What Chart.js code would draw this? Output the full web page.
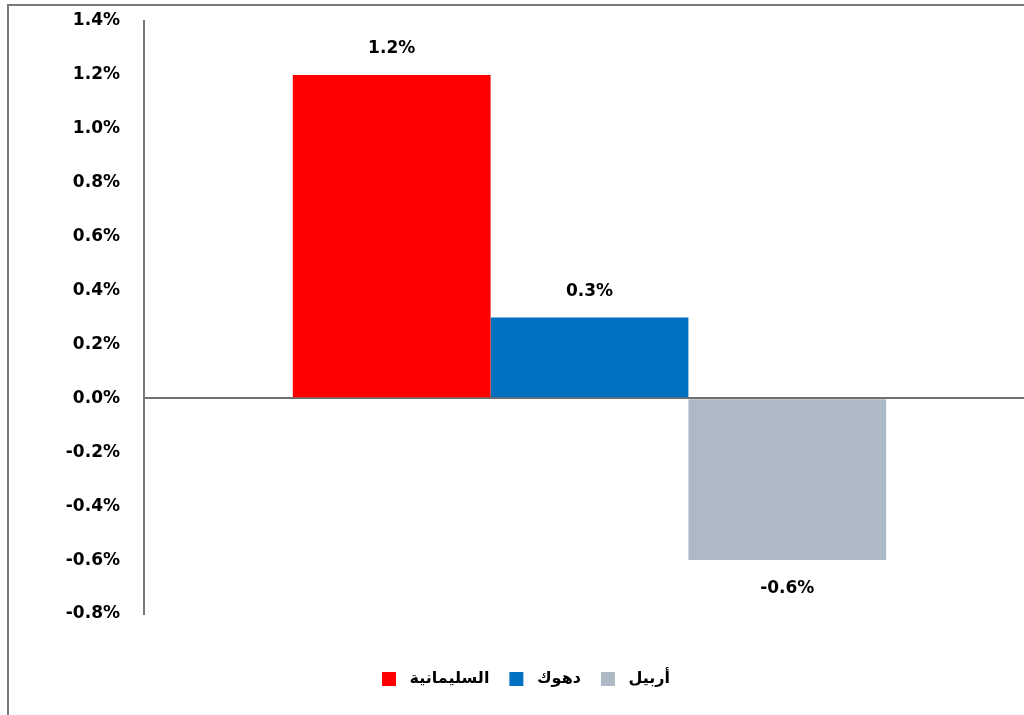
<!DOCTYPE html>
<html>
<head>
<meta charset="utf-8">
<script src="https://cdn.jsdelivr.net/npm/chart.js@4.4.1/dist/chart.umd.min.js"></script>
<style>
  html, body { margin: 0; padding: 0; background: #fff; overflow: hidden; }
  body { width: 1024px; height: 715px; position: relative; }
  #frame {
    position: absolute; left: 7px; top: 4px; width: 1100px; height: 800px;
    border-top: 2px solid #7a7a7a; border-left: 2px solid #7a7a7a;
  }
  #wrap { position: absolute; left: 0; top: 0; width: 1052px; height: 715px; }
</style>
</head>
<body>
<div id="frame"></div>
<div id="wrap"><canvas id="growthChart"></canvas></div>
<script>
// DATA
const categories = [''];
const regionNames = ['السليمانية', 'دهوك', 'أربيل'];
const regionValues = [1.2, 0.3, -0.6];
const regionColors = ['#FF0000', '#0070C0', '#ADB9C4'];
const yTicks = [-0.8, -0.6, -0.4, -0.2, 0.0, 0.2, 0.4, 0.6, 0.8, 1.0, 1.2, 1.4];

const FONT = "'DejaVu Sans', 'Liberation Sans', sans-serif";

// value labels above / below each bar
const barLabels = {
    id: 'barLabels',
    afterDatasetsDraw(chart) {
        const ctx = chart.ctx;
        ctx.save();
        ctx.font = 'bold 17px ' + FONT;
        ctx.fillStyle = '#000';
        ctx.textAlign = 'center';
        ctx.textBaseline = 'middle';
        chart.data.datasets.forEach((ds, i) => {
            chart.getDatasetMeta(i).data.forEach((bar, j) => {
                const v = ds.data[j];
                const y = v >= 0 ? bar.y - 26 : bar.y + 28;
                ctx.fillText(v.toFixed(1) + '%', bar.x, y);
            });
        });
        ctx.restore();
    }
};

new Chart(document.getElementById('growthChart'), {
    type: 'bar',
    data: {
        labels: categories,
        datasets: regionNames.map((name, i) => ({
            label: name,
            data: [regionValues[i]],
            backgroundColor: regionColors[i],
            borderWidth: 0,
            categoryPercentage: 0.666,
            barPercentage: 1.0
        }))
    },
    options: {
        responsive: true,
        maintainAspectRatio: false,
        animation: false,
        layout: { padding: { top: 21, left: 0, right: 0, bottom: 18 } },
        plugins: {
            legend: {
                position: 'bottom',
                labels: {
                    boxWidth: 14,
                    boxHeight: 14,
                    padding: 20,
                    color: '#000',
                    font: { family: FONT, size: 16, weight: 'bold' },
                    generateLabels(chart) {
                        return Chart.defaults.plugins.legend.labels.generateLabels(chart)
                            .map(l => Object.assign(l, { text: ' ' + l.text }));
                    }
                }
            },
            tooltip: { enabled: false }
        },
        scales: {
            x: {
                display: true,
                grid: { display: false },
                border: { display: false },
                ticks: { display: false },
                afterFit(scale) { scale.height = 37; }
            },
            y: {
                min: -0.8,
                max: 1.4,
                afterFit(scale) { scale.width = 144; },
                afterBuildTicks(scale) { scale.ticks = yTicks.map(v => ({ value: v })); },
                grid: {
                    drawTicks: true,
                    tickLength: 24,
                    tickColor: 'rgba(0,0,0,0)',
                    lineWidth: 2,
                    color: c => (c.tick && c.tick.value === 0 ? '#707070' : 'rgba(0,0,0,0)')
                },
                border: { display: true, color: '#7a7a7a', width: 2 },
                ticks: {
                    padding: 0,
                    color: '#000',
                    font: { family: FONT, size: 17, weight: 'bold' },
                    callback: v => v.toFixed(1) + '%'
                }
            },
            // empty right-hand axis, only to keep the plot edge where it is
            yRight: {
                position: 'right',
                display: true,
                grid: { display: false },
                border: { display: false },
                ticks: { display: false },
                afterFit(scale) { scale.width = 17; }
            }
        }
    },
    plugins: [barLabels]
});
</script>
</body>
</html>
